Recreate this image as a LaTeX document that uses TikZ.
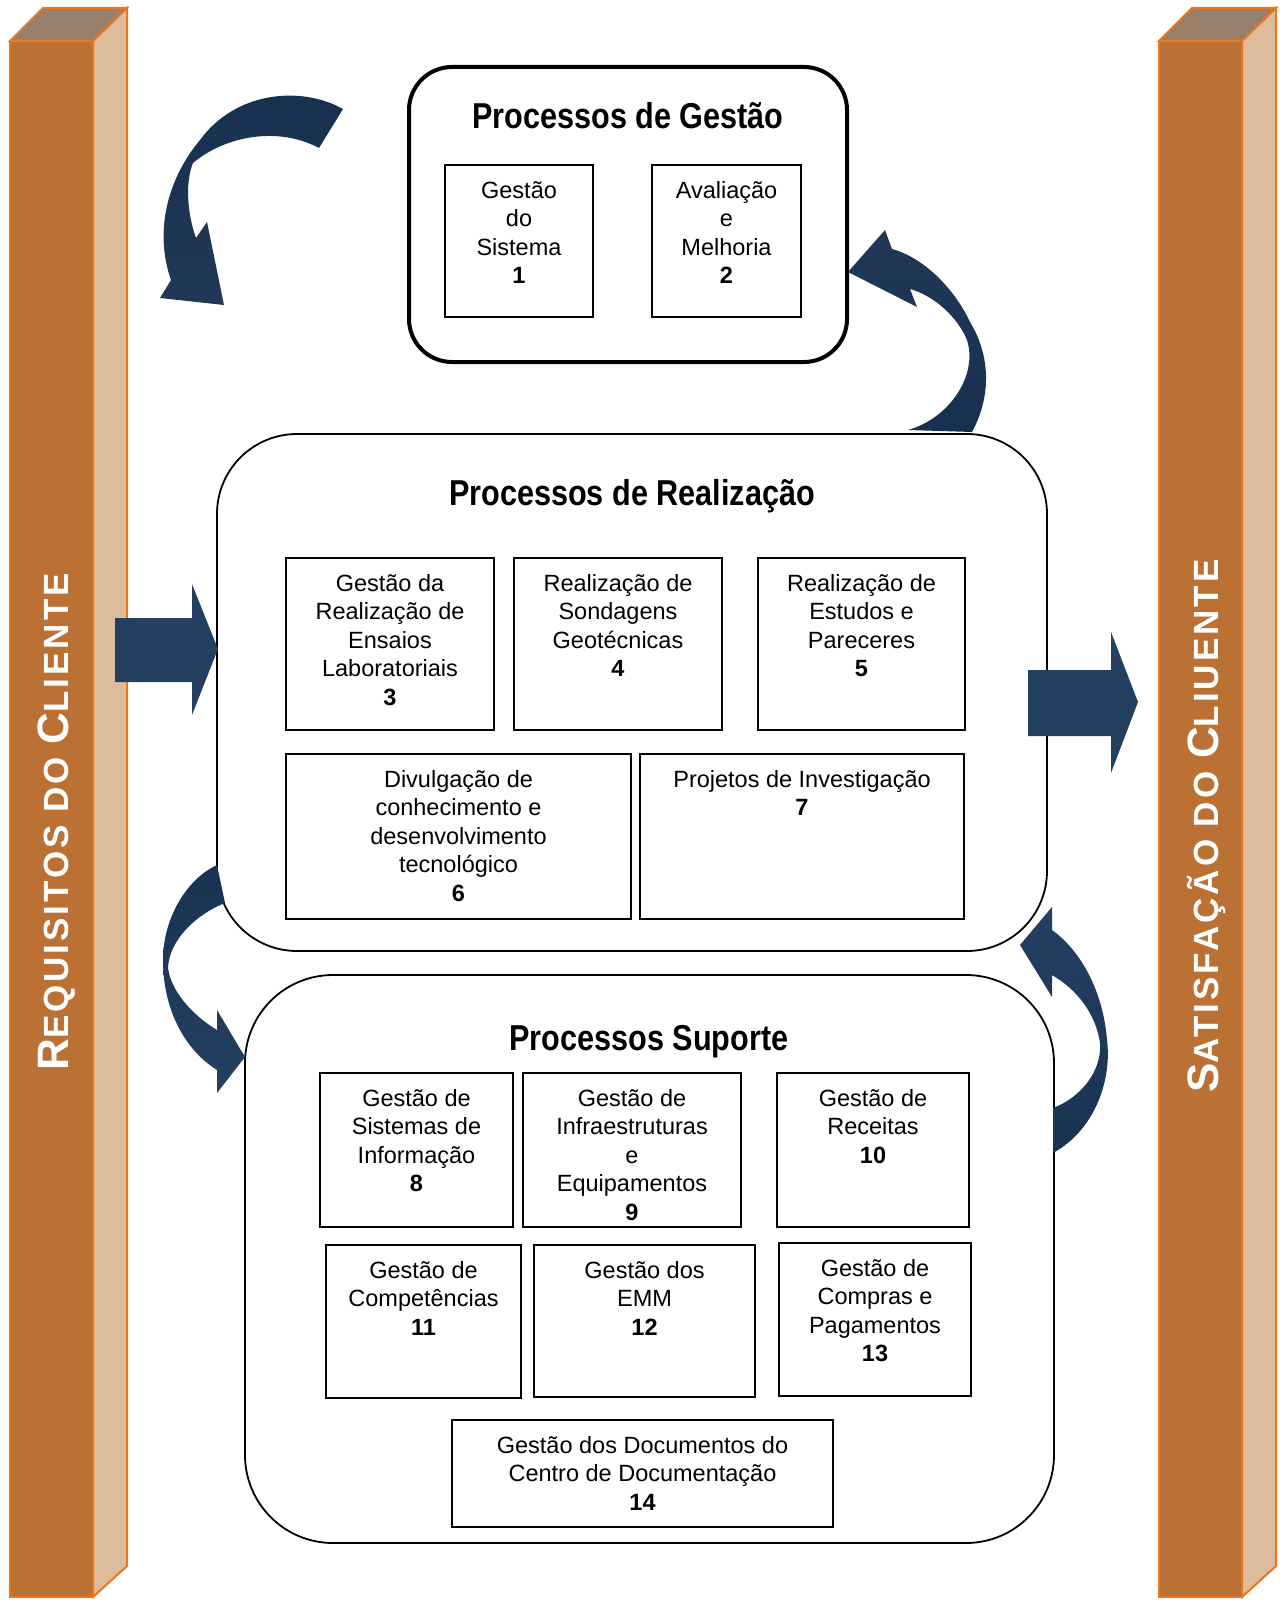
\documentclass[tikz,border=0pt]{standalone}
\usepackage{fontspec}
\setmainfont{Liberation Sans}
\newfontfamily\titlefont[FakeStretch=0.85]{Liberation Sans}
\newfontfamily\pillarfont[LetterSpace=8.5]{Liberation Sans}
\definecolor{pillarfront}{HTML}{BB7134}
\definecolor{pillarside}{HTML}{DDBB9D}
\definecolor{pillartop}{HTML}{987F6B}
\definecolor{pillaredge}{HTML}{E8771E}
\definecolor{arrowblue}{HTML}{243F60}
\definecolor{arrowdark}{HTML}{17304F}
\newcommand{\pcap}[1]{{\fontsize{44}{44}\selectfont #1}}
\newcommand{\psmall}[1]{{\fontsize{35}{35}\selectfont #1}}
\newcommand{\celltop}{\rule{0pt}{24pt}}
\begin{document}
\begin{tikzpicture}[x=1pt,y=-1pt,
    group/.style={draw,anchor=north west,inner sep=0pt,outer sep=0pt,line width=1.8pt},
    cell/.style={draw,line width=1.8pt,anchor=north west,inner sep=0pt,outer sep=0pt},
    celltext/.style={anchor=north,align=center,inner sep=0pt,font=\fontsize{23.5}{28.5}\selectfont},
    title/.style={anchor=base,font=\titlefont\bfseries\fontsize{36}{40}\selectfont},
    pillartext/.style={rotate=90,text=white,inner sep=0pt,font=\pillarfont\bfseries}]
    \useasboundingbox (0,0) rectangle (1284,1603);
    % pillars
    \foreach \px in {10,1159} {
        \filldraw[draw=pillaredge,fill=pillarfront,line width=2pt] (\px,41) rectangle (\px+83,1597);
        \filldraw[draw=pillaredge,fill=pillartop,line width=2pt] (\px,41) -- (\px+33,8) -- (\px+117,8) -- (\px+83,41) -- cycle;
        \filldraw[draw=pillaredge,fill=pillarside,line width=2pt] (\px+83,41) -- (\px+117,8) -- (\px+117,1566) -- (\px+83,1597) -- cycle;
    }
    \node[pillartext] (req) at (57,822) {\pcap{R}\psmall{EQUISITOS DO }\pcap{C}\psmall{LIENTE}};
    \node[pillartext] (sat) at (1207,826) {\pcap{S}\psmall{ATISFAÇÃO DO }\pcap{C}\psmall{LIUENTE}};
    % process groups
    \node[group,line width=4pt,rounded corners=43pt,minimum width=438pt,minimum height=295pt] (gest) at (409,67) {};
    \node[group,rounded corners=80pt,minimum width=830pt,minimum height=517pt] (real) at (217,434) {};
    \node[group,rounded corners=88pt,minimum width=809pt,minimum height=568pt] (sup) at (245,975) {};
    \node[title] (gestT) at (628,128) {Processos de Gestão};
    \node[title] (realT) at (632,505) {Processos de Realização};
    \node[title] (supT) at (649,1050) {Processos Suporte};
    % gestao
    \node[cell,minimum width=148pt,minimum height=152pt] (c1) at (445,165) {};
    \node[celltext] (t1) at ([yshift=-9pt]c1.north) {\celltop Gestão\\do\\Sistema\\\textbf{1}};
    \node[cell,minimum width=149pt,minimum height=152pt] (c2) at (652,165) {};
    \node[celltext] (t2) at ([yshift=-9pt]c2.north) {\celltop Avaliação\\e\\Melhoria\\\textbf{2}};
    % realizacao
    \node[cell,minimum width=208pt,minimum height=172pt] (c3) at (286,558) {};
    \node[celltext] (t3) at ([yshift=-9pt]c3.north) {\celltop Gestão da\\Realização de\\Ensaios\\Laboratoriais\\\textbf{3}};
    \node[cell,minimum width=208pt,minimum height=172pt] (c4) at (514,558) {};
    \node[celltext] (t4) at ([yshift=-9pt]c4.north) {\celltop Realização de\\Sondagens\\Geotécnicas\\\textbf{4}};
    \node[cell,minimum width=207pt,minimum height=172pt] (c5) at (758,558) {};
    \node[celltext] (t5) at ([yshift=-9pt]c5.north) {\celltop Realização de\\Estudos e\\Pareceres\\\textbf{5}};
    \node[cell,minimum width=345pt,minimum height=165pt] (c6) at (286,754) {};
    \node[celltext] (t6) at ([yshift=-9pt]c6.north) {\celltop Divulgação de\\conhecimento e\\desenvolvimento\\tecnológico\\\textbf{6}};
    \node[cell,minimum width=324pt,minimum height=165pt] (c7) at (640,754) {};
    \node[celltext] (t7) at ([yshift=-9pt]c7.north) {\celltop Projetos de Investigação\\\textbf{7}};
    % suporte
    \node[cell,minimum width=193pt,minimum height=154pt] (c8) at (320,1073) {};
    \node[celltext] (t8) at ([yshift=-9pt]c8.north) {\celltop Gestão de\\Sistemas de\\Informação\\\textbf{8}};
    \node[cell,minimum width=218pt,minimum height=154pt] (c9) at (523,1073) {};
    \node[celltext] (t9) at ([yshift=-9pt]c9.north) {\celltop Gestão de\\Infraestruturas\\e\\Equipamentos\\\textbf{9}};
    \node[cell,minimum width=192pt,minimum height=154pt] (c10) at (777,1073) {};
    \node[celltext] (t10) at ([yshift=-9pt]c10.north) {\celltop Gestão de\\Receitas\\\textbf{10}};
    \node[cell,minimum width=195pt,minimum height=153pt] (c11) at (326,1245) {};
    \node[celltext] (t11) at ([yshift=-9pt]c11.north) {\celltop Gestão de\\Competências\\\textbf{11}};
    \node[cell,minimum width=221pt,minimum height=152pt] (c12) at (534,1245) {};
    \node[celltext] (t12) at ([yshift=-9pt]c12.north) {\celltop Gestão dos\\EMM\\\textbf{12}};
    \node[cell,minimum width=192pt,minimum height=153pt] (c13) at (779,1243) {};
    \node[celltext] (t13) at ([yshift=-9pt]c13.north) {\celltop Gestão de\\Compras e\\Pagamentos\\\textbf{13}};
    \node[cell,minimum width=381pt,minimum height=107pt] (c14) at (452,1420) {};
    \node[celltext] (t14) at ([yshift=-9pt]c14.north) {\celltop Gestão dos Documentos do\\Centro de Documentação\\\textbf{14}};
    % block arrows
    \fill[arrowblue] (115,618) -- (192,618) -- (192,584) -- (218,649) -- (192,715) -- (192,682) -- (115,682) -- cycle;
    \fill[arrowblue] (1028,670) -- (1111,670) -- (1111,632) -- (1138,702) -- (1111,773) -- (1111,736) -- (1028,736) -- cycle;
    % curved arrows
    \shade[top color=arrowdark,bottom color=arrowblue!90!black] (343,109) .. controls (300,85) and (235,92) .. (200,140)
        .. controls (165,182) and (155,235) .. (171,280) -- (160,298) -- (224,305) -- (207,222) -- (196,238)
        .. controls (186,210) and (186,180) .. (193,163) .. controls (225,136) and (278,126) .. (319,148) -- cycle;
    \shade[top color=arrowblue!90!black,bottom color=arrowdark] (972,432) .. controls (992,395) and (990,355) .. (970,322)
        .. controls (955,290) and (925,258) .. (892,249) -- (885,230) -- (848,272) -- (917,307) -- (910,289)
        .. controls (935,296) and (958,318) .. (967,340) .. controls (978,375) and (950,418) .. (908,430) -- cycle;
    \shade[top color=arrowdark!80!arrowblue,bottom color=arrowblue] (217,865) .. controls (185,880) and (163,920) .. (163,960)
        .. controls (163,1010) and (185,1050) .. (217,1070) -- (217,1093) -- (245,1057) -- (217,1010) -- (217,1030)
        .. controls (192,1015) and (170,990) .. (168,967) .. controls (170,940) and (195,915) .. (225,903) -- cycle;
    \shade[top color=arrowblue,bottom color=arrowdark!80!arrowblue] (1053,1153) .. controls (1095,1130) and (1112,1080) .. (1107,1040)
        .. controls (1103,990) and (1080,950) .. (1052,930) -- (1052,907) -- (1020,945) -- (1052,997) -- (1052,975)
        .. controls (1078,990) and (1096,1015) .. (1100,1043) .. controls (1102,1070) and (1082,1097) .. (1053,1108) -- cycle;
\end{tikzpicture}
\end{document}
